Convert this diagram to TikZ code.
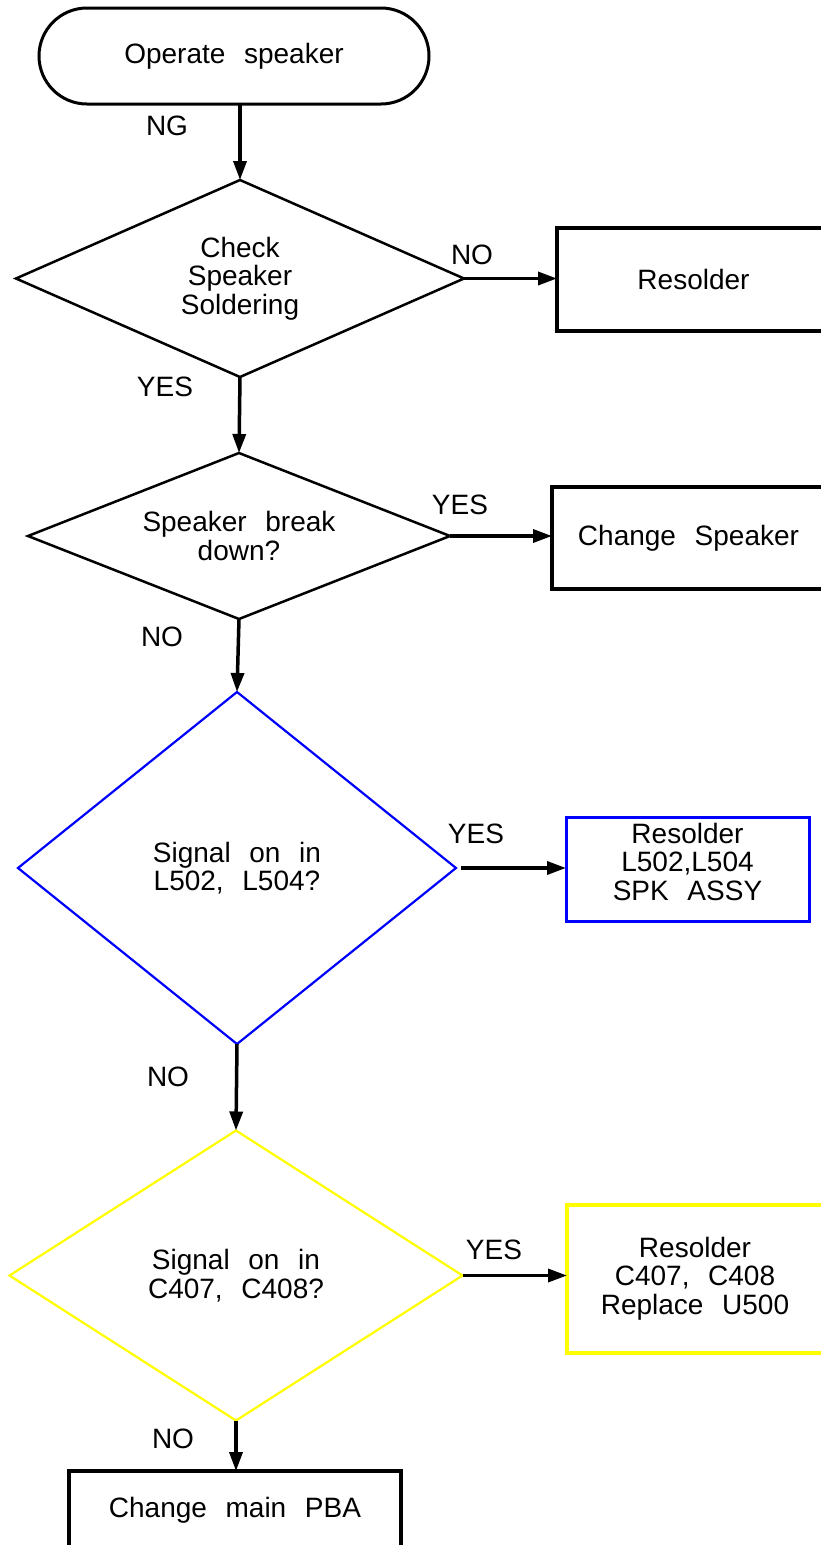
\documentclass[tikz,border=0pt]{standalone}
\usepackage{fontspec}
\setmainfont{Liberation Sans}[WordSpace=2.4]
\usetikzlibrary{shapes.geometric,shapes.misc,arrows.meta}
\definecolor{fcblue}{RGB}{0,0,255}
\definecolor{fcyellow}{RGB}{255,255,0}
\newcommand{\fclines}[1]{\begin{tabular}[t]{@{}c@{}}#1\end{tabular}}
\begin{document}
\begin{tikzpicture}[x=1pt,y=-1pt,
  every node/.style={font=\fontsize{28}{28.5}\selectfont, inner sep=0pt, outer sep=0pt},
  term/.style={rounded rectangle, draw, line width=3pt, minimum width=390pt, minimum height=96pt},
  decide/.style={diamond, draw, line width=2.5pt, align=center},
  cdecide/.style={diamond, draw, line width=2.2pt, align=center},
  actbox/.style={rectangle, draw, line width=3.5pt},
  flow/.style={line width=3.5pt, -{Triangle[length=19pt,width=13pt]}},
  lbl/.style={}
]
\useasboundingbox (0,0) rectangle (821,1545);
\clip (0,0) rectangle (821,1545);
\fill[white] (0,0) rectangle (821,1545);

% nodes
\node[term] (start) at (234,56) {Operate speaker};
\node[decide, aspect=2.27, minimum width=448pt, minimum height=197pt] (d1) at (240,278.5) {Check\\Speaker\\Soldering};
\node[actbox, minimum width=273pt, minimum height=103pt] (r1) at (693.5,279.5) {Resolder};
\node[decide, aspect=2.54, minimum width=422pt, minimum height=166pt] (d2) at (239,536) {Speaker break\\down?};
\node[actbox, minimum width=273pt, minimum height=102pt] (r2) at (688.5,538) {Change Speaker};
\node[cdecide, aspect=1.24, draw=fcblue, minimum width=438pt, minimum height=352pt] (d3) at (237,868) {Signal on in\\L502, L504?};
\node[actbox, draw=fcblue, line width=3pt, minimum width=243pt, text height=26pt, text depth=78pt] (r3) at (687.5,869) {\fclines{Resolder\\L502,L504\\SPK ASSY}};
\node[cdecide, aspect=1.56, draw=fcyellow, minimum width=453pt, minimum height=290pt] (d4) at (236,1275.5) {Signal on in\\C407, C408?};
\node[actbox, draw=fcyellow, line width=3.5pt, minimum width=256pt, text height=52pt, text depth=96pt] (r4) at (695,1279) {\fclines{Resolder\\C407, C408\\Replace U500}};
\node[actbox, minimum width=332pt, text height=46pt, text depth=53pt] (r5) at (235,1520.5) {Change main PBA};

% labels
\node[lbl] (lng) at (167,126) {NG};
\node[lbl] (lno1) at (472,255) {NO};
\node[lbl] (lyes1) at (165,387) {YES};
\node[lbl] (lyes2) at (460,505) {YES};
\node[lbl] (lno2) at (162,637) {NO};
\node[lbl] (lyes3) at (476,834) {YES};
\node[lbl] (lno3) at (168,1077) {NO};
\node[lbl] (lyes4) at (494,1250) {YES};
\node[lbl] (lno4) at (173,1439) {NO};

% connectors
\draw[flow] (start.south -| d1.north) -- (d1.north);
\draw[flow] (d1.east) -- (d1.east -| r1.west);
\draw[flow] (d1.south) -- (d2.north);
\draw[flow] (d2.east) -- (d2.east -| r2.west);
\draw[flow] (d2.south) -- (d3.north);
\draw[flow] ([xshift=5pt]d3.east) -- (d3.east -| r3.west);
\draw[flow] (d3.south) -- (d4.north);
\draw[flow] (d4.east) -- (d4.east -| r4.west);
\draw[flow] (d4.south) -- (d4.south |- r5.north);
\end{tikzpicture}
\end{document}
